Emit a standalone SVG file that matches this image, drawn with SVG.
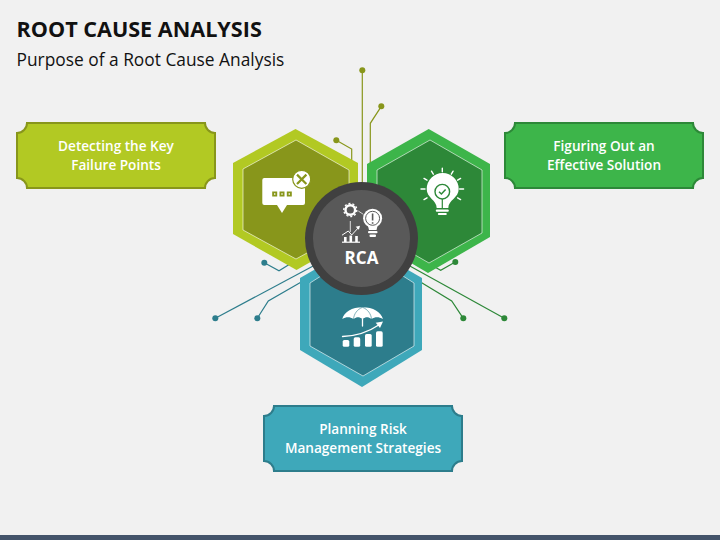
<svg xmlns="http://www.w3.org/2000/svg" width="720" height="540" viewBox="0 0 720 540">
<style>
text{font-family:"Open Sans","Liberation Sans",sans-serif}
.t{font-size:13.6px;fill:#fff;text-anchor:middle;font-weight:600}
.c{fill:none;stroke-width:1.2}
.in{stroke:#fff;stroke-opacity:.6;stroke-width:1}
.w{fill:#fff}
.wl{fill:none;stroke:#fff;stroke-linecap:round}
</style>
<rect width="720" height="540" fill="#f1f1f1"/>
<rect y="535" width="720" height="5" fill="#44546a"/>
<text x="16.5" y="36.5" font-size="21.6" font-weight="700" fill="#111">ROOT CAUSE ANALYSIS</text>
<text x="16.5" y="65.5" font-size="17.35" fill="#111">Purpose of a Root Cause Analysis</text>
<g id="connectors">
<g class="c" stroke="#88961b"><path d="M362.3 70.3V185"/><path d="M381.3 106.3L370.3 123.3V168"/><path d="M336.3 140.3L351.7 149V165"/></g>
<g fill="#88961b"><circle cx="362.3" cy="70.3" r="3"/><circle cx="381.3" cy="106.3" r="3"/><circle cx="336.3" cy="140.3" r="3"/></g>
<g class="c" stroke="#2d7d8c"><path d="M264.3 262.7L279 270.7L290 264"/><path d="M215.3 318.3L315 265"/><path d="M257.3 318.3L268.3 301L303 281"/></g>
<g fill="#2d7d8c"><circle cx="264.3" cy="262.7" r="3"/><circle cx="215.3" cy="318.3" r="3"/><circle cx="257.3" cy="318.3" r="3"/></g>
<g class="c" stroke="#2d8838"><path d="M455.3 262L440.7 270.3L433 266"/><path d="M504.3 318.3L408 265"/><path d="M463.3 318.3L451.7 301L418 280.5"/></g>
<g fill="#2d8838"><circle cx="455.3" cy="262" r="3"/><circle cx="504.3" cy="318.3" r="3"/><circle cx="463.3" cy="318.3" r="3"/></g>
</g>
<g id="hex-left">
<path d="M295.5 129L358 163V235L296.5 270L233 234V163Z" fill="#b2c923"/>
<path d="M296 140L349 170V230L296 259L243 230V169Z" fill="#88961b" class="in"/>
<path d="M262.3 180a2 2 0 0 1 2-2H303a2 2 0 0 1 2 2V203a2 2 0 0 1-2 2H287L282 213L277 205H264.3a2 2 0 0 1-2-2Z" class="w"/>
<g fill="#88961b"><rect x="272.2" y="191.5" width="5" height="5"/><rect x="279.5" y="191.5" width="5" height="5"/><rect x="286.8" y="191.5" width="5" height="5"/></g>
<g class="w"><rect x="274" y="193.3" width="1.4" height="1.4"/><rect x="281.3" y="193.3" width="1.4" height="1.4"/><rect x="288.6" y="193.3" width="1.4" height="1.4"/></g>
<circle cx="301.7" cy="179.3" r="9" fill="#fff" stroke="#88961b" stroke-width="1.2"/>
<path d="M297 174.6L306.4 184M306.4 174.6L297 184" stroke="#88961b" stroke-width="2.2" fill="none"/>
</g>
<g id="hex-right">
<path d="M428.7 129L490 164V237L428 273L367 237V164Z" fill="#3db54a"/>
<path d="M430 140L482 170V233L429 263L377 233V170Z" fill="#2d8838" class="in"/>
<path d="M436.7 208C436.7 200 426.7 198 426.7 189A16 16 0 0 1 458.7 189C458.7 198 448.3 200 448.3 208Z" class="w"/>
<circle cx="442.3" cy="191.7" r="7.3" fill="none" stroke="#2d8838" stroke-width="1.4"/>
<path d="M439 191.8L441.4 194L445.6 189.6" fill="none" stroke="#2d8838" stroke-width="1.5"/>
<path d="M442.3 199V208" stroke="#2d8838" stroke-width="1.2"/>
<rect x="435.8" y="209.5" width="13" height="2.2" rx="1" class="w"/>
<rect x="437.8" y="213" width="9" height="2" rx="1" class="w"/>
<g class="wl" stroke-width="1.4"><path d="M442.3 168.3V171.8M431.5 171.2L433.3 174.2M453.1 171.2L451.3 174.2M424 178.4L427 180.2M460.6 178.4L457.6 180.2M421 189H425M459.6 189H463.6M424 199.6L427 197.8M460.6 199.6L457.6 197.8"/></g>
</g>
<g id="hex-bottom">
<path d="M361 243L422 278V350L362 387L300 350V278Z" fill="#3ea8ba"/>
<path d="M362 250L414 283V346L363 376L310 346V283Z" fill="#2d7d8c" class="in"/>
<path d="M342.3 319C344 312 352 307.3 362.5 307.3C373 307.3 381 312 383 319C379 316.5 375 316.5 371.5 319C368 316.5 366 316.5 362.5 319C359 316.5 357 316.5 353.5 319C350 316.5 346 316.5 342.3 319Z" class="w"/>
<path d="M353.5 319C354 314 357 309.5 362.5 307.3C368 309.5 371 314 371.5 319" fill="none" stroke="#2d7d8c" stroke-width=".6"/>
<path d="M362.5 319V326" class="wl" stroke-width="1.3"/>
<path d="M342.5 336.5C358 336 370 331 379.5 324.5" class="wl" stroke-width="1.3"/>
<path d="M383 321.5L375.7 322.7L380 328Z" class="w"/>
<rect x="342.7" y="340" width="6.6" height="6.8" rx="1.6" class="w"/>
<rect x="353.7" y="337.3" width="6.5" height="9.5" rx="1.6" class="w"/>
<rect x="365" y="334" width="6.7" height="12.8" rx="1.6" class="w"/>
<rect x="376" y="331.3" width="6.7" height="15.5" rx="1.6" class="w"/>
</g>
<g id="center">
<circle cx="361.5" cy="238.5" r="56.5" fill="#404040"/>
<circle cx="361.5" cy="238.5" r="48.5" fill="#595959"/>
<circle cx="350.3" cy="210" r="4.8" fill="none" stroke="#fff" stroke-width="2.4"/>
<circle cx="350.3" cy="210" r="6.5" fill="none" stroke="#fff" stroke-width="1.4" stroke-dasharray="2 2"/>
<path d="M358.3 211L363.3 214.3" stroke="#fff" stroke-opacity=".75" stroke-width="1"/>
<circle cx="372.6" cy="218.3" r="9.5" class="w"/>
<circle cx="372.6" cy="218.3" r="7" fill="none" stroke="#595959" stroke-width="1"/>
<path d="M372.6 213.5V220.5M372.6 222.2V223.8" stroke="#595959" stroke-width="1.6"/>
<path d="M368 226H377.5L376.5 230H369Z" class="w"/>
<rect x="368" y="231" width="9.5" height="2.2" rx="1" class="w"/>
<rect x="369.5" y="234.5" width="6.5" height="2.5" rx="1" class="w"/>
<path d="M350.3 221V232" stroke="#fff" stroke-opacity=".8" stroke-width="1"/>
<path d="M342.3 235L348.3 231L351.7 235L358.6 227.5" class="wl" stroke-width="1"/>
<path d="M360 225.8L355.6 226.8L358.9 229.8Z" class="w"/>
<rect x="342" y="241.6" width="18" height="1.2" class="w"/>
<rect x="344" y="237" width="2.6" height="5" class="w"/><rect x="349.5" y="235.5" width="2.6" height="6.5" class="w"/><rect x="355.2" y="236" width="2.6" height="6" class="w"/>
<text x="361.5" y="263.5" font-size="17" font-weight="700" fill="#fff" text-anchor="middle">RCA</text>
</g>
<defs>
<path id="plaque" d="M10 0H188A10 10 0 0 0 198 10V55A10 10 0 0 0 188 65H10A10 10 0 0 0 0 55V10A10 10 0 0 0 10 0Z" stroke-width="2"/>
</defs>
<g id="label-left">
<use href="#plaque" x="17" y="123" fill="#b2c923" stroke="#88961b"/>
<text class="t" x="116" y="150.5">Detecting the Key</text>
<text class="t" x="116" y="170">Failure Points</text>
</g>
<g id="label-right">
<use href="#plaque" x="505" y="123" fill="#3db54a" stroke="#2d8838"/>
<text class="t" x="604" y="150.5">Figuring Out an</text>
<text class="t" x="604" y="170">Effective Solution</text>
</g>
<g id="label-bottom">
<use href="#plaque" x="264" y="406" fill="#3ea8ba" stroke="#2d7d8c"/>
<text class="t" x="363" y="433.5">Planning Risk</text>
<text class="t" x="363" y="453">Management Strategies</text>
</g>
</svg>
